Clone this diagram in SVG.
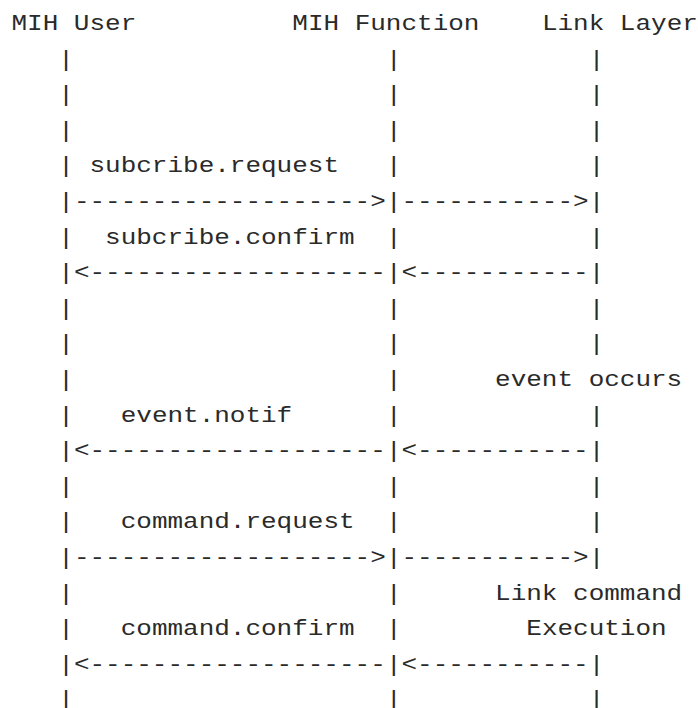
<svg xmlns="http://www.w3.org/2000/svg" width="698" height="708" viewBox="0 0 698 708">
<style>
text { font-family: "Liberation Mono", "DejaVu Sans Mono", monospace; font-size: 22.5px; fill: #2a2a2a; white-space: pre; }
</style>
<rect width="698" height="708" fill="#fff"/>
<g transform="translate(11.5,0) scale(1.15556,1)">
  <g id="node-mih-user">
    <text x="0" y="30">MIH User</text>
    <text><tspan x="40.5" y="65.6">|</tspan><tspan x="40.5" y="101.2">|</tspan><tspan x="40.5" y="136.8">|</tspan><tspan x="40.5" y="172.4">|</tspan><tspan x="40.5" y="208">|</tspan><tspan x="40.5" y="243.6">|</tspan><tspan x="40.5" y="279.2">|</tspan><tspan x="40.5" y="314.8">|</tspan><tspan x="40.5" y="350.4">|</tspan><tspan x="40.5" y="386">|</tspan><tspan x="40.5" y="421.6">|</tspan><tspan x="40.5" y="457.2">|</tspan><tspan x="40.5" y="492.8">|</tspan><tspan x="40.5" y="528.4">|</tspan><tspan x="40.5" y="564">|</tspan><tspan x="40.5" y="599.6">|</tspan><tspan x="40.5" y="635.2">|</tspan><tspan x="40.5" y="670.8">|</tspan><tspan x="40.5" y="706.4">|</tspan></text>
  </g>
  <g id="node-mih-function">
    <text x="243" y="30">MIH Function</text>
    <text><tspan x="324" y="65.6">|</tspan><tspan x="324" y="101.2">|</tspan><tspan x="324" y="136.8">|</tspan><tspan x="324" y="172.4">|</tspan><tspan x="324" y="208">|</tspan><tspan x="324" y="243.6">|</tspan><tspan x="324" y="279.2">|</tspan><tspan x="324" y="314.8">|</tspan><tspan x="324" y="350.4">|</tspan><tspan x="324" y="386">|</tspan><tspan x="324" y="421.6">|</tspan><tspan x="324" y="457.2">|</tspan><tspan x="324" y="492.8">|</tspan><tspan x="324" y="528.4">|</tspan><tspan x="324" y="564">|</tspan><tspan x="324" y="599.6">|</tspan><tspan x="324" y="635.2">|</tspan><tspan x="324" y="670.8">|</tspan><tspan x="324" y="706.4">|</tspan></text>
  </g>
  <g id="node-link-layer">
    <text x="459" y="30">Link Layer</text>
    <text><tspan x="499.5" y="65.6">|</tspan><tspan x="499.5" y="101.2">|</tspan><tspan x="499.5" y="136.8">|</tspan><tspan x="499.5" y="172.4">|</tspan><tspan x="499.5" y="208">|</tspan><tspan x="499.5" y="243.6">|</tspan><tspan x="499.5" y="279.2">|</tspan><tspan x="499.5" y="314.8">|</tspan><tspan x="499.5" y="350.4">|</tspan><tspan x="499.5" y="421.6">|</tspan><tspan x="499.5" y="457.2">|</tspan><tspan x="499.5" y="492.8">|</tspan><tspan x="499.5" y="528.4">|</tspan><tspan x="499.5" y="564">|</tspan><tspan x="499.5" y="670.8">|</tspan><tspan x="499.5" y="706.4">|</tspan></text>
    <text x="418.5" y="386">event occurs</text>
    <text x="418.5" y="599.6">Link command</text>
    <text x="445.5" y="635.2">Execution</text>
  </g>
  <g id="connectors">
    <text x="54" y="208">-------------------&gt;</text>
    <text x="337.5" y="208">-----------&gt;</text>
    <text x="54" y="279.2">&lt;-------------------</text>
    <text x="337.5" y="279.2">&lt;-----------</text>
    <text x="54" y="457.2">&lt;-------------------</text>
    <text x="337.5" y="457.2">&lt;-----------</text>
    <text x="54" y="564">-------------------&gt;</text>
    <text x="337.5" y="564">-----------&gt;</text>
    <text x="54" y="670.8">&lt;-------------------</text>
    <text x="337.5" y="670.8">&lt;-----------</text>
  </g>
  <g id="labels">
    <text x="67.5" y="172.4">subcribe.request</text>
    <text x="81" y="243.6">subcribe.confirm</text>
    <text x="94.5" y="421.6">event.notif</text>
    <text x="94.5" y="528.4">command.request</text>
    <text x="94.5" y="635.2">command.confirm</text>
  </g>
</g>
</svg>
